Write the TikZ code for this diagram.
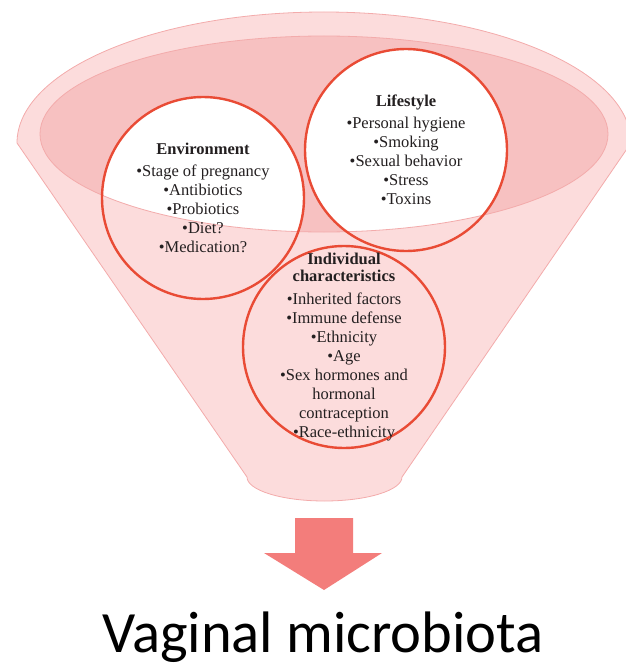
\documentclass[tikz,border=0pt]{standalone}
\usepackage{fontspec}
\setmainfont{Liberation Serif}
\newfontfamily\calibri{Carlito}
\usepackage{xcolor}
\usetikzlibrary{positioning}
\definecolor{funnelpink}{HTML}{FCDCDC}
\definecolor{funnelline}{HTML}{F3ABAB}
\definecolor{mouthpink}{HTML}{F7C1C1}
\definecolor{ringred}{HTML}{E94B35}
\definecolor{arrowred}{HTML}{F37D7B}
\definecolor{inktext}{HTML}{231F20}

\begin{document}
\begin{tikzpicture}[x=1pt, y=-1pt,
  every node/.style={inner sep=0pt},
  factor/.style={circle, draw=ringred, line width=2.4pt, minimum size=202pt},
  factortext/.style={align=center, text=inktext, font=\fontsize{16.5}{19}\selectfont}]
  \useasboundingbox (0,0) rectangle (625,666);
  \coordinate (mouth) at (324,134);
  \coordinate (envc)  at (203,198);
  \coordinate (lifec) at (406,150);
  \coordinate (indc)  at (344,347);
  % funnel
  \draw[funnelline, fill=funnelpink, line width=0.8pt]
    (17,143) arc[start angle=180, end angle=360, x radius=307, y radius=131]
    -- (402,477) arc[start angle=0, end angle=180, x radius=77.5, y radius=24]
    -- cycle;
  \fill[mouthpink] (mouth) ellipse [x radius=284, y radius=98];
  \begin{scope}
    \clip (mouth) ellipse [x radius=284, y radius=98];
    \fill[white] (envc) circle[radius=101] (lifec) circle[radius=101];
  \end{scope}
  \draw[funnelline, line width=0.8pt] (mouth) ellipse [x radius=284, y radius=98];
  % factors
  \node[factor] (env)  at (envc)  {};
  \node[factor] (life) at (lifec) {};
  \node[factor] (ind)  at (indc)  {};
  \node[factortext] (envtext) at (envc) {\textbf{Environment}\\[3pt]
    \textbullet Stage of pregnancy\\ \textbullet Antibiotics\\ \textbullet Probiotics\\
    \textbullet Diet?\\ \textbullet Medication?};
  \node[factortext] (lifetext) at (lifec) {\textbf{Lifestyle}\\[3pt]
    \textbullet Personal hygiene\\ \textbullet Smoking\\ \textbullet Sexual behavior\\
    \textbullet Stress\\ \textbullet Toxins};
  \node[factortext] (indtext) at (indc) {\textbf{Individual}\\[-2pt] \textbf{characteristics}\\[4pt]
    \textbullet Inherited factors\\ \textbullet Immune defense\\ \textbullet Ethnicity\\
    \textbullet Age\\ \textbullet Sex hormones and\\ hormonal\\ contraception\\
    \textbullet Race-ethnicity};
  % outcome
  \fill[arrowred] (295,518) -- (353,518) -- (353,553) -- (382,553) -- (324,590)
    -- (264,553) -- (295,553) -- cycle;
  \node[anchor=base, font=\calibri\fontsize{58.5}{60}\selectfont] (micro) at (323,652) {Vaginal microbiota};
\end{tikzpicture}
\end{document}
